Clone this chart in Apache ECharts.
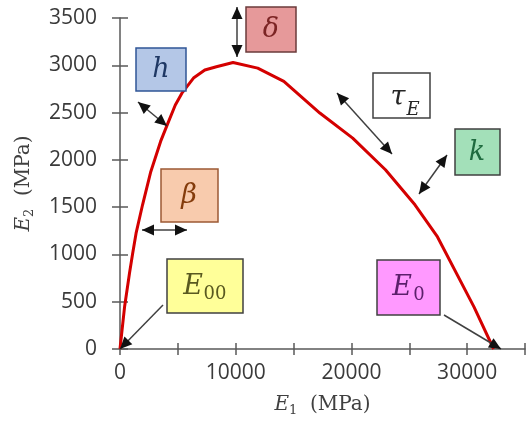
<!DOCTYPE html>
<html>
<head>
<meta charset="utf-8">
<script src="https://cdn.jsdelivr.net/npm/echarts@6/dist/echarts.min.js"></script>
<style>
  html, body { margin: 0; padding: 0; background: #fff; }
  #chart { width: 528px; height: 424px; }
</style>
</head>
<body>
<div id="chart"></div>
<script>
// E1 / E2 curve (MPa)
const e1 = [0, 400, 820, 1100, 1390, 1950, 2660, 3510, 4080, 4780, 5350, 6350, 7330, 8330, 9770, 11900, 14160, 17270, 20110, 22940, 25490, 27440, 30590, 32290];
const e2 = [0, 450, 800, 1015, 1225, 1525, 1875, 2195, 2370, 2580, 2705, 2865, 2950, 2985, 3030, 2970, 2830, 2495, 2230, 1895, 1525, 1185, 445, 0];
const xTicks = [0, 10000, 20000, 30000];

const axisColor = '#595959';
const tickFont = '"Open Sans", sans-serif';
const mathFont = '"DejaVu Serif", serif';

// annotation boxes (pixel layout)
const boxes = [
    {x: 136, y: 48, w: 50, h: 43, fill: '#b4c7e7', stroke: '#2f5597', text: 'h', tx: 161, ty: 70, color: '#1f3864'},
    {x: 246, y: 7, w: 50, h: 45, fill: '#e6999a', stroke: '#6b3b3b', text: 'δ', tx: 271, ty: 30, color: '#7b2424'},
    {x: 373, y: 73, w: 57, h: 45, fill: '#ffffff', stroke: '#404040', text: 'τ', tx: 398, ty: 98, color: '#262626', sub: 'E', sx: 413, sy: 110},
    {x: 455, y: 129, w: 45, h: 46, fill: '#a3e0b9', stroke: '#404040', text: 'k', tx: 477, ty: 153, color: '#1f6b3f'},
    {x: 161, y: 169, w: 57, h: 53, fill: '#f8cbad', stroke: '#9c5a34', text: 'β', tx: 189, ty: 196, color: '#843c0c'},
    {x: 167, y: 259, w: 76, h: 54, fill: '#ffff99', stroke: '#404040', text: 'E', tx: 193, ty: 287, color: '#595920', sub: '00', sx: 215, sy: 294},
    {x: 377, y: 260, w: 63, h: 55, fill: '#ff99ff', stroke: '#404040', text: 'E', tx: 402, ty: 288, color: '#5b1f6b', sub: '0', sx: 419, sy: 295}
];

// arrows: [x1, y1, x2, y2, both heads?]
const arrows = [
    [237, 7, 237, 57, true],
    [138, 102, 167, 126, true],
    [337, 93, 392, 154, true],
    [447, 155, 419, 194, true],
    [142, 230, 187, 230, true],
    [163, 305, 120, 349, false],
    [444, 315, 501, 349, false]
];

function head(xt, yt, xf, yf) {
    const dx = xt - xf, dy = yt - yf;
    const len = Math.sqrt(dx * dx + dy * dy);
    const ux = dx / len, uy = dy / len;
    const L = 12, W = 5.5;
    const bx = xt - ux * L, by = yt - uy * L;
    return {
        type: 'polygon',
        z: 20,
        shape: {points: [[xt, yt], [bx - uy * W, by + ux * W], [bx + uy * W, by - ux * W]]},
        style: {fill: '#111'}
    };
}

const graphics = [];
boxes.forEach(b => {
    graphics.push({type: 'rect', z: 10, shape: {x: b.x, y: b.y, width: b.w, height: b.h},
        style: {fill: b.fill, stroke: b.stroke, lineWidth: 1.5}});
    graphics.push({type: 'text', z: 11, x: b.tx, y: b.ty,
        style: {text: b.text, font: 'italic 27px ' + mathFont, fill: b.color, align: 'center', verticalAlign: 'middle'}});
    if (b.sub) {
        graphics.push({type: 'text', z: 11, x: b.sx, y: b.sy,
            style: {text: b.sub, font: (b.sub === 'E' ? 'italic ' : '') + '18px ' + mathFont, fill: b.color, align: 'center', verticalAlign: 'middle'}});
    }
});
arrows.forEach(a => {
    graphics.push({type: 'line', z: 19, shape: {x1: a[0], y1: a[1], x2: a[2], y2: a[3]},
        style: {stroke: '#404040', lineWidth: 1.5}});
    graphics.push(head(a[2], a[3], a[0], a[1]));
    if (a[4]) graphics.push(head(a[0], a[1], a[2], a[3]));
});

const nameRich = {
    e: {fontFamily: mathFont, fontStyle: 'italic', fontSize: 20, lineHeight: 24, color: '#404040'},
    s: {fontFamily: mathFont, fontSize: 13, lineHeight: 14, verticalAlign: 'bottom', color: '#404040'},
    u: {fontFamily: mathFont, fontSize: 20, lineHeight: 24, color: '#404040'}
};

const baseX = {
    type: 'value', min: 0, max: 35000, interval: 5000,
    splitLine: {show: false}
};
const baseY = {
    type: 'value', min: 0, max: 3500, interval: 500,
    splitLine: {show: false}
};

const chart = echarts.init(document.getElementById('chart'));
chart.setOption({
    animation: false,
    grid: {left: 120, right: -4, top: 18, bottom: 75},
    xAxis: [
        Object.assign({}, baseX, {
            position: 'bottom',
            axisLine: {lineStyle: {color: axisColor, width: 1.5}},
            axisTick: {inside: false, length: 6, lineStyle: {color: axisColor, width: 1.5}},
            axisLabel: {
                margin: 14, color: '#3a3a3a', fontSize: 21, fontFamily: tickFont,
                formatter: v => xTicks.indexOf(v) >= 0 ? String(v) : ''
            },
            name: '{e|E}{s|1}{u|  (MPa)}',
            nameLocation: 'middle',
            nameGap: 44,
            nameTextStyle: {rich: nameRich}
        }),
        Object.assign({}, baseX, {
            position: 'bottom',
            axisLine: {show: false},
            axisTick: {inside: true, length: 6, lineStyle: {color: axisColor, width: 1.5}},
            axisLabel: {show: false}
        })
    ],
    yAxis: [
        Object.assign({}, baseY, {
            position: 'left',
            axisLine: {show: true, lineStyle: {color: axisColor, width: 1.5}},
            axisTick: {show: true, inside: false, length: 8, lineStyle: {color: axisColor, width: 1.5}},
            axisLabel: {margin: 23, color: '#3a3a3a', fontSize: 21, fontFamily: tickFont, formatter: v => String(v)},
            name: '{e|E}{s|2}{u|  (MPa)}',
            nameLocation: 'middle',
            nameGap: 84,
            nameTextStyle: {rich: nameRich}
        }),
        Object.assign({}, baseY, {
            position: 'left',
            axisLine: {show: false},
            axisTick: {show: true, inside: true, length: 8, lineStyle: {color: axisColor, width: 1.5}},
            axisLabel: {show: false}
        })
    ],
    graphic: graphics,
    series: [{
        type: 'line',
        xAxisIndex: 0,
        yAxisIndex: 0,
        data: e1.map((v, i) => [v, e2[i]]),
        symbol: 'none',
        lineStyle: {color: '#d40000', width: 3},
        z: 5
    }]
});
</script>
</body>
</html>
